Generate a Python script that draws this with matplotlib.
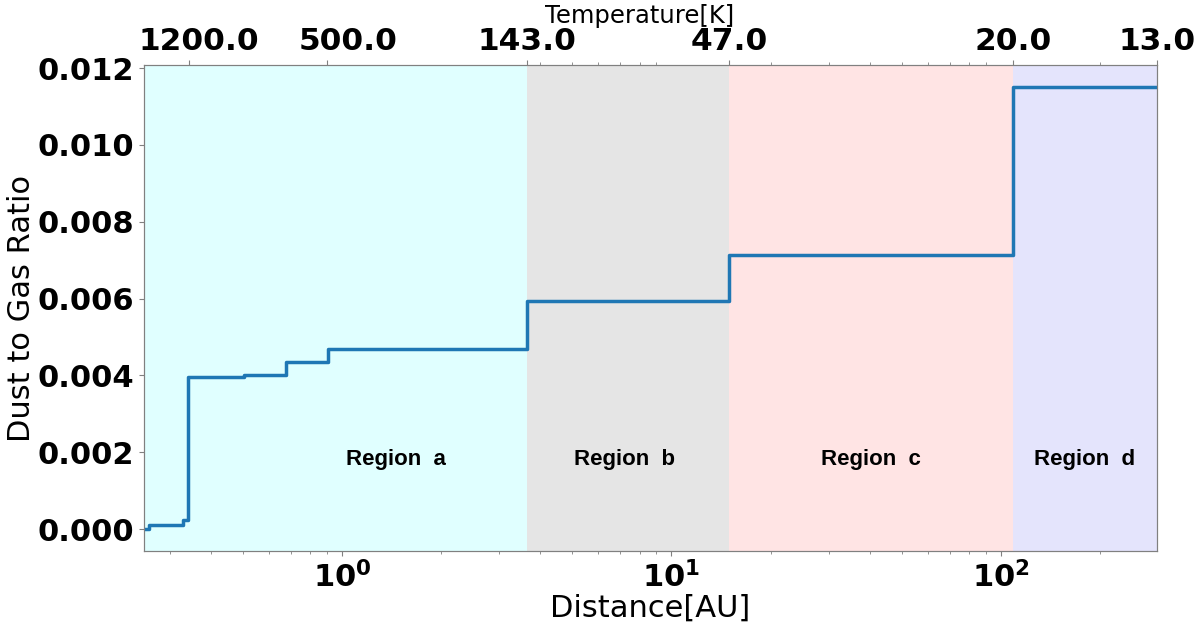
import matplotlib
matplotlib.use('Agg')
import matplotlib.pyplot as plt
import matplotlib.transforms as mtransforms
from matplotlib.ticker import FixedLocator
import numpy as np

##############
# PARAMETERS #
##############

# step edges of the dust to gas ratio profile (AU)
dist_edges = [0.25, 0.259, 0.329, 0.340, 0.504, 0.676, 0.906, 3.65, 15.0, 108.8, 298.0]
dust_gas = [0.0, 0.0001, 0.00023, 0.00397, 0.0040, 0.00436, 0.0047, 0.00595, 0.00713, 0.01151, 0.01151]

# regions (boundaries in AU)
region_names = ['Region  a', 'Region  b', 'Region  c', 'Region  d']
region_bounds = [0.25, 3.65, 15.0, 108.8, 298.0]
region_colors = ['#e0ffff', '#e5e5e5', '#ffe4e4', '#e4e4fc']
region_label_x = [1.46, 7.2, 40.5, 180.0]
region_label_y = 0.0018

# temperature ticks on the top axis
temp_pos = [0.343, 0.90, 3.65, 15.0, 108.8, 298.0]
temp_vals = [1200.0, 500.0, 143.0, 47.0, 20.0, 13.0]

y_ticks = [0.000, 0.002, 0.004, 0.006, 0.008, 0.010, 0.012]

########
# CODE #
########

fig, ax = plt.subplots(figsize=(12, 6.22), dpi=100)
fig.subplots_adjust(left=0.12, right=0.964, top=0.895, bottom=0.114)

for i in range(len(region_names)):
    ax.axvspan(region_bounds[i], region_bounds[i+1], color=region_colors[i], lw=0, zorder=0)
    ax.text(region_label_x[i], region_label_y, region_names[i], ha='center', va='center',
            fontsize=16, fontweight='bold', family='Liberation Sans')

ax.plot(dist_edges, dust_gas, drawstyle='steps-post', color='#1f77b4', lw=2.5, zorder=3)

ax.set_xscale('log')
ax.set_xlim(dist_edges[0], dist_edges[-1])
ax.set_ylim(-0.000575, 0.012075)
ax.set_yticks(y_ticks)
ax.set_yticklabels(['%.3f' % v for v in y_ticks], fontsize=22, fontweight='bold')
ax.set_xticks([1, 10, 100])
ax.set_xticklabels([r'$\mathbf{10^{0}}$', r'$\mathbf{10^{1}}$', r'$\mathbf{10^{2}}$'], fontsize=22)
ax.set_xlabel('Distance[AU]', fontsize=22, labelpad=0)
ax.set_ylabel('Dust to Gas Ratio', fontsize=22, labelpad=1)

# top axis with the temperatures
ax2 = ax.twiny()
ax2.set_xscale('log')
ax2.set_xlim(ax.get_xlim())
ax2.set_xticks(temp_pos)
ax2.set_xticklabels([str(t) for t in temp_vals], fontsize=22.5, fontweight='bold')
# minor ticks on top only from 4 AU on
top_minor = [k * 10.0**e for e in range(0, 3) for k in range(2, 10) if 4 <= k * 10.0**e <= 298]
ax2.xaxis.set_minor_locator(FixedLocator(top_minor))
ax2.set_xlabel('Temperature[K]', fontsize=17.5, labelpad=1)
ax2.xaxis.set_label_coords(0.489, 1.087)

# the first two temperature labels sit a bit right of their ticks
fig.canvas.draw()
shifts = [0.10, 0.21]
for lab, dx in zip(ax2.get_xticklabels()[:2], shifts):
    lab.set_transform(lab.get_transform() + mtransforms.ScaledTranslation(dx, 0, fig.dpi_scale_trans))

for a in [ax, ax2]:
    for s in a.spines.values():
        s.set_color('grey')
    a.tick_params(which='both', color='grey')

plt.savefig('out.png')
